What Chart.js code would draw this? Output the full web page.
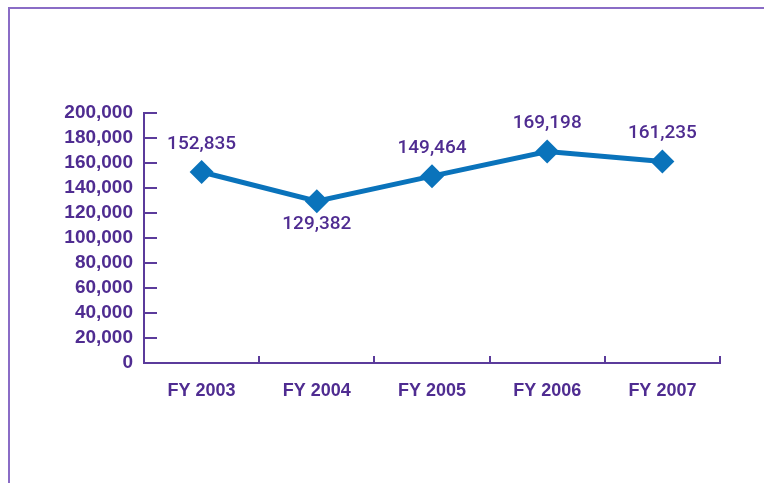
<!DOCTYPE html>
<html>
<head>
<meta charset="utf-8">
<script src="https://cdn.jsdelivr.net/npm/chart.js@4.4.1/dist/chart.umd.min.js"></script>
<style>
  html, body { margin: 0; padding: 0; background: #fff; }
  #wrap { position: relative; width: 764px; height: 483px; }
  #frame { position: absolute; left: 8px; top: 7px; right: 0; bottom: 0;
           border-top: 2px solid #8a6cc6; border-left: 2px solid #8a6cc6; }
  canvas { position: absolute; left: 0; top: 0; }
</style>
</head>
<body>
<div id="wrap">
  <div id="frame"></div>
  <canvas id="myChart" width="764" height="483"></canvas>
</div>
<script>
  // Data
  const years = ['FY 2003', 'FY 2004', 'FY 2005', 'FY 2006', 'FY 2007'];
  const totals = [152835, 129382, 149464, 169198, 161235];

  const purple = '#4f2c91';
  const axisColor = '#5b3b9b';
  const blue = '#0a73bb';

  // inward tick marks + value labels
  const extras = {
    id: 'extras',
    afterDraw(chart) {
      const ctx = chart.ctx;
      const x = chart.scales.x;
      const y = chart.scales.y;
      const area = chart.chartArea;

      ctx.save();
      ctx.strokeStyle = axisColor;
      ctx.lineWidth = 2;
      ctx.beginPath();
      y.ticks.forEach(t => {
        const py = Math.round(y.getPixelForValue(t.value));
        ctx.moveTo(area.left, py);
        ctx.lineTo(area.left + 13, py);
      });
      const n = years.length;
      for (let i = 1; i <= n; i++) {
        const px = Math.round(x.left + (x.right - x.left) * i / n);
        ctx.moveTo(px, area.bottom);
        ctx.lineTo(px, area.bottom - 7);
      }
      ctx.stroke();

      ctx.fillStyle = purple;
      ctx.font = '500 19px Roboto, "Liberation Sans", Arial, sans-serif';
      ctx.textAlign = 'center';
      ctx.textBaseline = 'middle';
      const pts = chart.getDatasetMeta(0).data;
      pts.forEach((p, i) => {
        const v = totals[i];
        const dip = i > 0 && i < totals.length - 1 && v < totals[i - 1] && v < totals[i + 1];
        const ly = dip ? p.y + 23 : p.y - 28;
        ctx.fillText(v.toLocaleString('en-US'), p.x, ly);
      });
      ctx.restore();
    }
  };

  const ctx = document.getElementById('myChart');

  const config = {
    type: 'line',
    data: {
      labels: years,
      datasets: [
        {
          data: totals,
          borderColor: blue,
          backgroundColor: blue,
          borderWidth: 5,
          pointStyle: 'rectRot',
          pointRadius: 12,
          pointHoverRadius: 12,
          pointBorderWidth: 0,
          tension: 0
        }
      ]
    },
    options: {
      responsive: false,
      animation: false,
      layout: { padding: { top: 113, right: 44, left: 0, bottom: 0 } },
      plugins: {
        legend: { display: false },
        tooltip: { enabled: false }
      },
      scales: {
        x: {
          offset: true,
          afterFit: s => { s.height = 120; },
          grid: { display: false, drawTicks: false },
          border: { color: axisColor, width: 2 },
          ticks: {
            color: purple,
            padding: 17,
            font: { family: '"Liberation Sans", Arial, sans-serif', size: 18, weight: 'bold' }
          }
        },
        y: {
          min: 0,
          max: 200000,
          afterFit: s => { s.width = 144; },
          grid: { display: false, drawTicks: false },
          border: { color: axisColor, width: 2 },
          ticks: {
            stepSize: 20000,
            autoSkip: false,
            color: purple,
            padding: 11,
            font: { family: '"Liberation Sans", Arial, sans-serif', size: 19, weight: 'bold' },
            callback: v => v.toLocaleString('en-US')
          }
        }
      }
    },
    plugins: [extras]
  };

  const myChart = new Chart(ctx, config);
</script>
</body>
</html>
